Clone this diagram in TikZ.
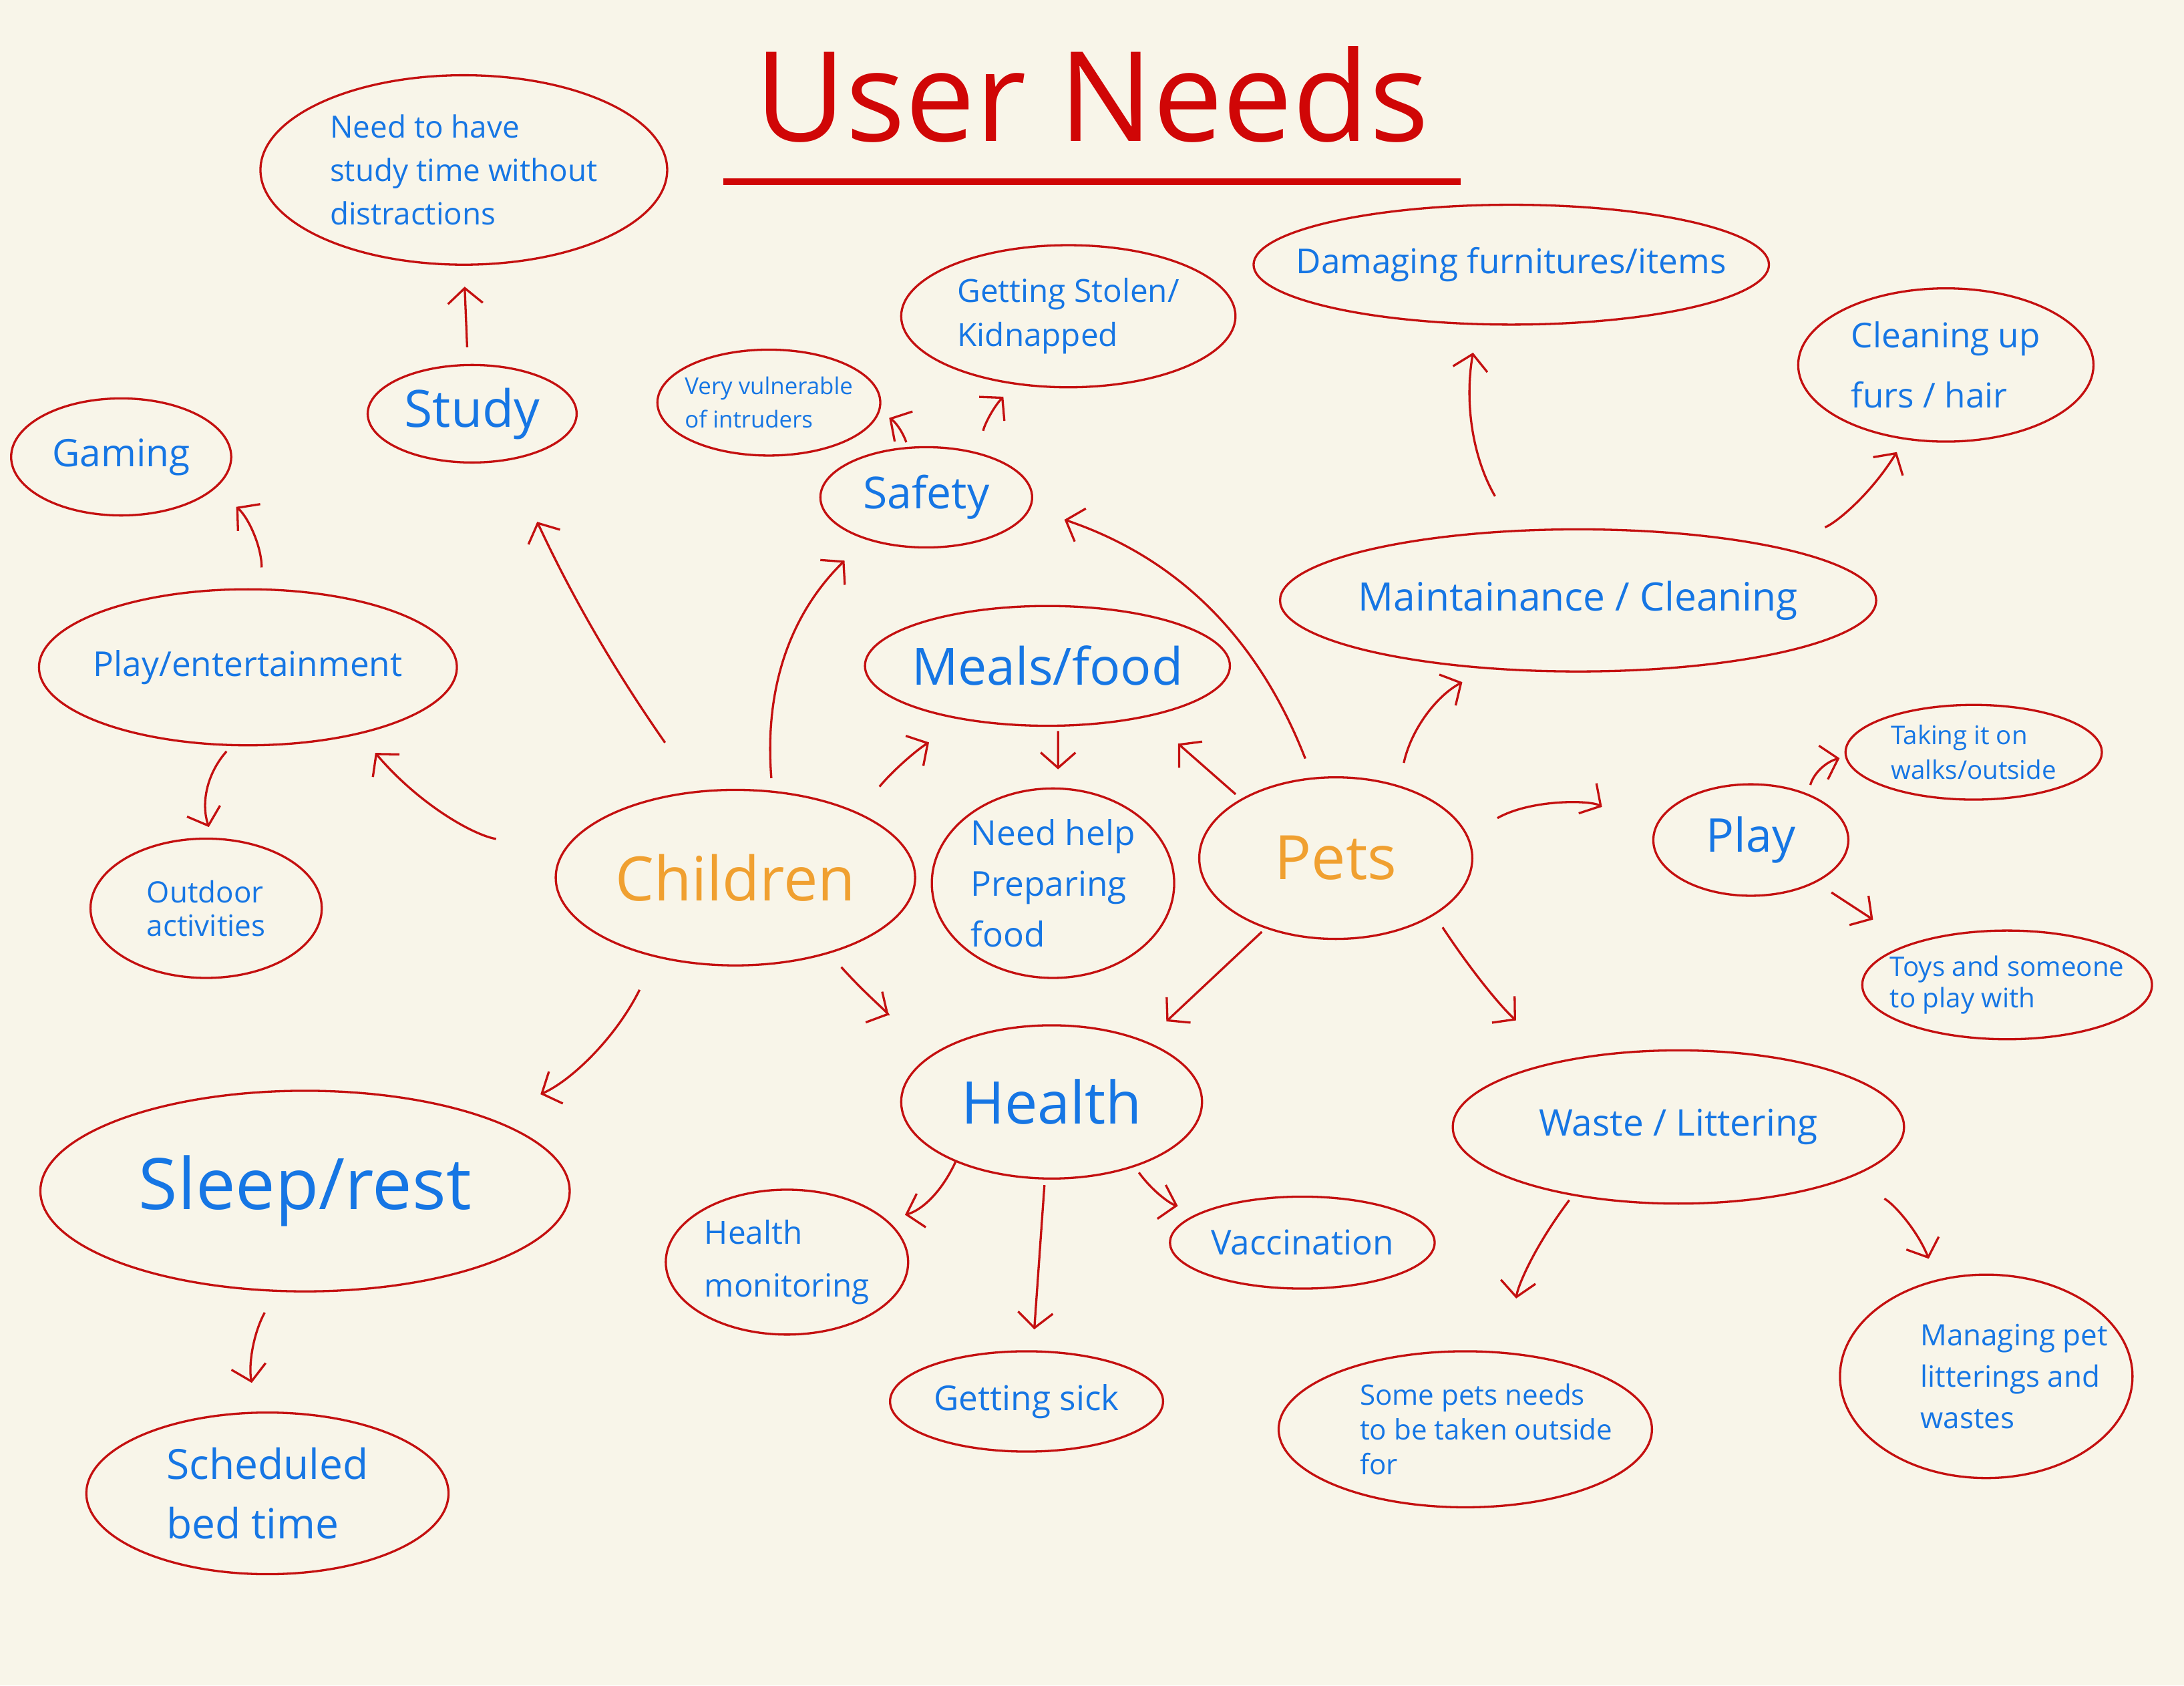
\documentclass[tikz,border=0pt]{standalone}
\usepackage{fontspec}
\setmainfont{Open Sans}
\usetikzlibrary{shapes.geometric, arrows.meta}
\definecolor{paper}{RGB}{248,245,233}
\definecolor{pen}{RGB}{196,16,16}
\definecolor{ink}{RGB}{22,118,228}
\definecolor{amber}{RGB}{240,160,48}
\definecolor{headline}{RGB}{208,6,6}

\begin{document}
\begin{tikzpicture}[
    x=0.2mm, y=-0.2mm,
    bubble/.style={ellipse, draw=pen, line width=0.9pt, inner sep=0pt},
    txt/.style={text=ink, align=left, inner sep=0pt},
    topic/.style={txt, text=amber},
    link/.style={draw=pen, line width=0.9pt, -{Straight Barb[length=2.2mm, width=5mm]}},
]
    % Paper
    \fill[paper] (0,0) rectangle (1568,1210);

    % Title
    \node[font=\fontsize{51}{60}\selectfont, text=headline, minimum width=105.8mm,
        minimum height=24.8mm, inner sep=0pt] (title) at (784,68) {User Needs};
    \draw[headline, line width=2.6pt] (title.south west) -- (title.south east);

    % Children side
    \node[bubble, minimum width=58.4mm, minimum height=27.2mm,
        label={[txt, font=\fontsize{12.5}{17.7}\selectfont]center:Need to have\\study time without\\distractions}] (need) at (333,122) {};
    \node[bubble, minimum width=30mm, minimum height=14mm,
        label={[txt, font=\fontsize{21}{24}\selectfont]center:Study}] (study) at (339,297) {};
    \node[bubble, minimum width=31.6mm, minimum height=16.8mm,
        label={[txt, font=\fontsize{15.5}{18}\selectfont]center:Gaming}] (gaming) at (87,328) {};
    \node[bubble, minimum width=60mm, minimum height=22.4mm,
        label={[txt, font=\fontsize{14}{17}\selectfont]center:Play/entertainment}] (playent) at (178,479) {};
    \node[bubble, minimum width=33.2mm, minimum height=20mm,
        label={[txt, font=\fontsize{12}{13.7}\selectfont]center:Outdoor\\activities}] (outdoor) at (148,652) {};
    \node[bubble, minimum width=32mm, minimum height=15.2mm,
        label={[txt, font=\fontsize{9.5}{13.7}\selectfont]center:Very vulnerable\\of intruders}] (vulnerable) at (552,289) {};
    \node[bubble, minimum width=48mm, minimum height=20.4mm,
        label={[txt, font=\fontsize{13}{18}\selectfont]center:Getting Stolen/\\Kidnapped}] (stolen) at (767,227) {};
    \node[bubble, minimum width=30.4mm, minimum height=14.4mm,
        label={[txt, font=\fontsize{18}{21}\selectfont]center:Safety}] (safety) at (665,357) {};
    \node[bubble, minimum width=52.4mm, minimum height=17.2mm,
        label={[txt, font=\fontsize{21}{24}\selectfont]center:Meals/food}] (meals) at (752,478) {};
    \node[bubble, minimum width=51.6mm, minimum height=25.2mm,
        label={[topic, font=\fontsize{25}{28}\selectfont]center:Children}] (children) at (528,630) {};
    \node[bubble, minimum width=34.8mm, minimum height=27.2mm,
        label={[txt, font=\fontsize{14}{20.8}\selectfont]center:Need help\\Preparing\\food}] (needhelp) at (756,634) {};
    \node[bubble, minimum width=76mm, minimum height=28.8mm,
        label={[txt, font=\fontsize{29}{32}\selectfont]center:Sleep/rest}] (sleep) at (219,855) {};
    \node[bubble, minimum width=52mm, minimum height=23.2mm,
        label={[txt, font=\fontsize{17}{24.5}\selectfont]center:Scheduled\\bed time}] (bedtime) at (192,1072) {};

    % Health
    \node[bubble, minimum width=43.2mm, minimum height=22mm,
        label={[txt, font=\fontsize{24}{27}\selectfont]center:Health}] (health) at (755,791) {};
    \node[bubble, minimum width=34.8mm, minimum height=20.8mm,
        label={[txt, font=\fontsize{13}{21.6}\selectfont]center:Health\\monitoring}] (monitor) at (565,906) {};
    \node[bubble, minimum width=38mm, minimum height=13.2mm,
        label={[txt, font=\fontsize{14}{17}\selectfont]center:Vaccination}] (vacc) at (935,892) {};
    \node[bubble, minimum width=39.2mm, minimum height=14.4mm,
        label={[txt, font=\fontsize{14}{17}\selectfont]center:Getting sick}] (sick) at (737,1006) {};

    % Pets side
    \node[bubble, minimum width=74mm, minimum height=17.2mm,
        label={[txt, font=\fontsize{14}{17}\selectfont]center:Damaging furnitures/items}] (damaging) at (1085,190) {};
    \node[bubble, minimum width=42.4mm, minimum height=22mm,
        label={[txt, font=\fontsize{14}{24.5}\selectfont]center:Cleaning up\\furs / hair}] (cleanup) at (1397,262) {};
    \node[bubble, minimum width=85.6mm, minimum height=20.4mm,
        label={[txt, font=\fontsize{16}{19}\selectfont]center:Maintainance / Cleaning}] (maint) at (1133,431) {};
    \node[bubble, minimum width=39.2mm, minimum height=23.2mm,
        label={[topic, font=\fontsize{25}{28}\selectfont]center:Pets}] (pets) at (959,616) {};
    \node[bubble, minimum width=28mm, minimum height=16mm,
        label={[txt, font=\fontsize{19}{22}\selectfont]center:Play}] (play) at (1257,603) {};
    \node[bubble, minimum width=36.8mm, minimum height=13.6mm,
        label={[txt, font=\fontsize{10.5}{14}\selectfont]center:Taking it on\\walks/outside}] (walks) at (1417,540) {};
    \node[bubble, minimum width=41.6mm, minimum height=15.6mm,
        label={[txt, font=\fontsize{11}{13}\selectfont]center:Toys and someone\\to play with}] (toys) at (1441,707) {};
    \node[bubble, minimum width=64.8mm, minimum height=22mm,
        label={[txt, font=\fontsize{15}{18}\selectfont]center:Waste / Littering}] (waste) at (1205,809) {};
    \node[bubble, minimum width=53.6mm, minimum height=22.4mm,
        label={[txt, xshift=3mm, font=\fontsize{11.5}{14.2}\selectfont]center:Some pets needs\\to be taken outside\\for}] (outside) at (1052,1026) {};
    \node[bubble, minimum width=42mm, minimum height=29.2mm,
        label={[txt, xshift=4mm, font=\fontsize{12}{17}\selectfont]center:Managing pet\\litterings and\\wastes}] (litter) at (1426,988) {};

    % Arrows from children
    \draw[link, shorten <=2.4mm, shorten >=3mm] (study.95) -- (need.270);
    \draw[link, shorten <=3mm, shorten >=4mm] (playent.80) to[bend right=25] (gaming.-19);
    \draw[link, shorten <=1mm, shorten >=1.6mm] (playent.-102) to[bend right=30] (outdoor.85);
    \draw[link, shorten <=9.8mm, shorten >=3.5mm] (children.171) to[bend left=20] (playent.-31);
    \draw[link, shorten <=8.4mm, shorten >=9.7mm] (children.113) to[bend left=5] (study.-52);
    \draw[link, shorten <=1.8mm, shorten >=4.3mm] (children.67) to[bend left=25] (safety.-145);
    \draw[link, shorten <=4.8mm, shorten >=6.2mm] (children.28) to[bend left=10] (meals.-146);
    \draw[link, shorten <=2.6mm, shorten >=9.4mm] (children.-39) to[bend right=10] (health.152);
    \draw[link, shorten <=5.2mm, shorten >=8.3mm] (children.-135) to[bend left=20] (sleep.22);
    \draw[link, shorten <=3.4mm, shorten >=4.2mm] (sleep.-106) to[bend right=20] (bedtime.97);
    \draw[link, shorten <=0.7mm, shorten >=1.6mm] (safety.110) to[bend right=20] (vulnerable.-5);
    \draw[link, shorten <=3.2mm, shorten >=2.4mm] (safety.41) to[bend left=15] (stolen.-128);
    \draw[link, shorten <=0.6mm, shorten >=2.6mm] (meals.-80) -- (needhelp.87);

    % Arrows from pets
    \draw[link, shorten <=2.9mm, shorten >=5.1mm] (pets.106) to[bend right=25] (safety.-6);
    \draw[link, shorten <=1mm, shorten >=5.8mm] (pets.148) -- (meals.-27);
    \draw[link, shorten <=3.3mm, shorten >=4mm] (pets.49) to[bend left=25] (maint.-143);
    \draw[link, shorten <=5.6mm, shorten >=4mm] (maint.132) to[bend left=20] (damaging.-119);
    \draw[link, shorten <=8.2mm, shorten >=2.1mm] (maint.16) to[bend right=20] (cleanup.-119);
    \draw[link, shorten <=4.9mm, shorten >=8.4mm] (pets.10) to[bend left=30] (play.178);
    \draw[link, shorten <=1.3mm, shorten >=0.8mm] (play.39) to[bend left=30] (walks.-178);
    \draw[link, shorten <=2.6mm, shorten >=6.3mm] (play.-33) -- (toys.157);
    \draw[link, shorten <=0.7mm, shorten >=4.1mm] (pets.-135) -- (health.33);
    \draw[link, shorten <=2.1mm, shorten >=8.8mm] (pets.-30) to[bend right=8] (waste.150);
    \draw[link, shorten <=0.8mm, shorten >=7.8mm] (waste.-147) to[bend right=15] (outside.60);
    \draw[link, shorten <=6mm, shorten >=3.2mm] (waste.-17) to[bend left=20] (litter.117);

    % Health branches
    \draw[link, shorten >=2.7mm] (health.-148) to[bend left=25] (monitor.23);
    \draw[link, shorten <=0.8mm, shorten >=3mm] (health.-95) -- (sick.83);
    \draw[link, shorten <=1mm, shorten >=3.5mm] (health.-38) to[bend right=20] (vacc.163);
\end{tikzpicture}
\end{document}
